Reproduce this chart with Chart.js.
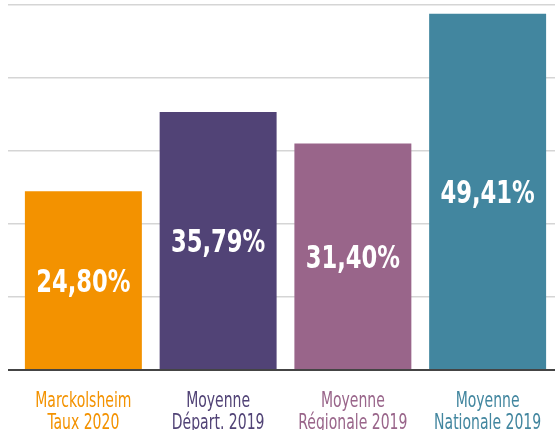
<!DOCTYPE html>
<html>
<head>
<meta charset="utf-8">
<script src="https://cdn.jsdelivr.net/npm/chart.js@4/dist/chart.umd.min.js"></script>
<style>
  html, body { margin: 0; padding: 0; background: #fff; }
  #wrap { width: 555px; height: 430px; position: relative; }
</style>
</head>
<body>
<div id="wrap"><canvas id="chartCanvas"></canvas></div>
<script>
// Data
const categories = [
    ['Marckolsheim', 'Taux 2020'],
    ['Moyenne', 'Départ. 2019'],
    ['Moyenne', 'Régionale 2019'],
    ['Moyenne', 'Nationale 2019']
];
const values = [24.80, 35.79, 31.40, 49.41];
const barColors = ['#F39200', '#514376', '#99658A', '#42869F'];

const FONT = '"DejaVu Sans Condensed", "DejaVu Sans", sans-serif';

const fmt = v => v.toFixed(2).replace('.', ',') + '%';

// no narrow font installed, so squeeze the text horizontally
function squeezedText(ctx, text, x, y, sx) {
    ctx.save();
    ctx.translate(x, y);
    ctx.scale(sx, 1);
    ctx.fillText(text, 0, 0);
    ctx.restore();
}

// values inside the bars + two-line category labels under them
const barLabels = {
    id: 'barLabels',
    afterDatasetsDraw(chart) {
        const ctx = chart.ctx;
        const meta = chart.getDatasetMeta(0);
        const xScale = chart.scales.x;
        ctx.save();
        ctx.textAlign = 'center';
        ctx.textBaseline = 'alphabetic';

        ctx.fillStyle = '#fff';
        ctx.font = 'bold 31.5px ' + FONT;
        meta.data.forEach((bar, i) => {
            const mid = (bar.y + bar.base) / 2;
            squeezedText(ctx, fmt(values[i]), bar.x, mid + 11.5, 0.8);
        });

        ctx.font = '20.5px ' + FONT;
        categories.forEach((lines, i) => {
            const x = xScale.getPixelForValue(i);
            ctx.fillStyle = barColors[i];
            lines.forEach((line, j) => {
                squeezedText(ctx, line, x, chart.chartArea.bottom + 37 + j * 22, 0.76);
            });
        });
        ctx.restore();
    }
};

const isZero = c => c.tick && c.tick.value === 0;

window.chart = new Chart(document.getElementById('chartCanvas'), {
    type: 'bar',
    data: {
        labels: categories,
        datasets: [{
            data: values,
            backgroundColor: barColors,
            borderWidth: 0,
            barPercentage: 0.868,
            categoryPercentage: 1
        }]
    },
    options: {
        responsive: true,
        maintainAspectRatio: false,
        animation: false,
        layout: { padding: { left: 8, top: 5, right: 0, bottom: 0 } },
        plugins: { legend: { display: false }, tooltip: { enabled: false } },
        scales: {
            x: {
                grid: { display: false, drawTicks: false },
                border: { display: false },
                ticks: { display: false },
                afterFit: scale => {
                    scale.height = 60;
                    scale.paddingLeft = 0;
                    scale.paddingRight = 0;
                }
            },
            y: {
                min: 0,
                max: 50.625,
                border: { display: false },
                ticks: { display: false, stepSize: 10.125 },
                grid: {
                    drawTicks: true,
                    tickLength: 8,
                    color: c => isZero(c) ? '#444444' : '#d5d5d5',
                    tickColor: c => isZero(c) ? '#444444' : '#d5d5d5',
                    lineWidth: c => isZero(c) ? 2 : 1.5
                }
            }
        }
    },
    plugins: [barLabels]
});
</script>
</body>
</html>
